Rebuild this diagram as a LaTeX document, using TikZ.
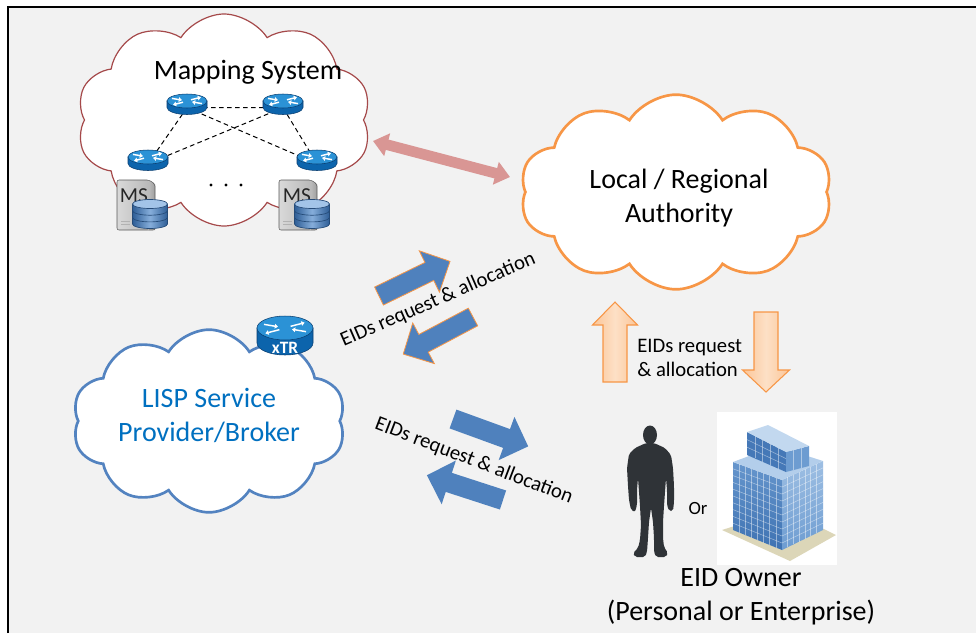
\documentclass[tikz,border=0pt]{standalone}
\usepackage{fontspec}
\setmainfont{Carlito}
\usetikzlibrary{shapes.symbols,arrows.meta,calc}

\definecolor{bg}{HTML}{F2F2F2}
\definecolor{msred}{HTML}{A5494A}
\definecolor{authorange}{HTML}{F79646}
\definecolor{lispblue}{HTML}{5383C0}
\definecolor{lisptext}{HTML}{0070C0}
\definecolor{pinkarrow}{HTML}{D99694}
\definecolor{blockblue}{HTML}{4F81BD}
\definecolor{peach}{HTML}{FBC597}
\definecolor{peachlight}{HTML}{FDE0C6}
\definecolor{rtop}{HTML}{2B92D6}
\definecolor{rside}{HTML}{0C64AC}
\definecolor{redge}{HTML}{0A3E70}
\definecolor{dbdark}{HTML}{2F5E96}
\definecolor{dblight}{HTML}{86AEDB}
\definecolor{dbtop}{HTML}{A3C4E8}
\definecolor{silhouette}{HTML}{2F3337}
\definecolor{bldgdark}{HTML}{3E72B2}
\definecolor{bldgmid}{HTML}{6D9CD1}
\definecolor{bldglight}{HTML}{B3CEEB}
\definecolor{ground}{HTML}{DCD6B8}

% block arrow: style, tail centre, angle, length, shaft half width, head half width, head length
\newcommand{\blockarrow}[7]{%
  \path[#1,shift={#2},rotate=#3]
    (0,-#5) -- ({#4-#7},-#5) -- ({#4-#7},-#6) -- (#4,0) -- ({#4-#7},#6)
    -- ({#4-#7},#5) -- (0,#5) -- cycle;}

% router body: x radius, y radius, side height, arrow scale
\newcommand{\routerbody}[4]{%
  \fill[rside, draw=redge, line width=0.4pt]
    (-#1,0) -- (-#1,#3) arc[start angle=180, end angle=0, x radius=#1, y radius=#2]
    -- (#1,0) -- cycle;
  \fill[rtop, draw=redge, line width=0.4pt] (0,0) ellipse[x radius=#1, y radius=#2];
  \begin{scope}[scale=#4, white, line width=1.1pt, -{Triangle[length=2.4pt,width=3.4pt]}]
    \draw (-15,-2.6) -- (-5,-0.9);
    \draw (15,2.6) -- (5,0.9);
    \draw (4,-1.2) -- (14,-3.8);
    \draw (-4,1.2) -- (-14,3.8);
  \end{scope}}

\tikzset{
  bigtext/.style={font=\fontsize{21}{25.5}\selectfont, align=center, inner sep=0pt},
  midtext/.style={font=\fontsize{15.5}{18}\selectfont, inner sep=0pt},
  mslabel/.style={font=\fontsize{16}{16}\selectfont, text=black!85, inner sep=0pt},
  bluearrowO/.style={fill=blockblue, draw=authorange, line width=0.6pt, line join=miter},
  bluearrow/.style={fill=blockblue},
  peacharrow/.style={left color=peach, right color=peach, middle color=peachlight,
                     draw=authorange, line width=0.8pt},
  meshlink/.style={dash pattern=on 3.5pt off 2.5pt, line width=0.75pt, black},
  router/.pic={\routerbody{20}{7}{6.5}{1}},
  xtrrouter/.pic={\routerbody{28}{12}{15}{1.4}},
  tower/.pic={
    \shade[left color=gray!30, right color=gray!55, rounded corners=1.5pt]
      (-19,-25) rectangle (13,25);
    \shade[left color=gray!55, right color=gray!75] (13,-25) -- (19,-21) -- (19,25) -- (13,25) -- cycle;
    \draw[gray!70!black, line width=0.4pt, rounded corners=1.5pt]
      (-19,-25) -- (13,-25) -- (19,-21) -- (19,25) -- (-19,25) -- cycle;
    \draw[gray!60, line width=0.6pt] (-15,16) -- (-6,16) (-15,19) -- (-6,19);
  },
  database/.pic={
    \shade[left color=dbdark, right color=dbdark, middle color=dblight]
      (-17.5,-10) -- (-17.5,10) arc[start angle=180, end angle=0, x radius=17.5, y radius=4.5]
      -- (17.5,-10) -- cycle;
    \draw[dbdark!80!black, line width=0.5pt]
      (-17.5,-3.3) arc[start angle=180, end angle=0, x radius=17.5, y radius=4.5]
      (-17.5,3.4) arc[start angle=180, end angle=0, x radius=17.5, y radius=4.5];
    \draw[dbdark!80!black, line width=0.5pt]
      (-17.5,-10) -- (-17.5,10) arc[start angle=180, end angle=0, x radius=17.5, y radius=4.5]
      -- (17.5,-10);
    \fill[dbtop, draw=dbdark!80!black, line width=0.5pt] (0,-10) ellipse[x radius=17.5, y radius=4.5];
  }
}

\begin{document}
\begin{tikzpicture}[x=0.75pt,y=-0.75pt]
\useasboundingbox (0,0) rectangle (976,633);

% page and frame
\fill[white] (0,0) rectangle (976,633);
\fill[bg] (8,7) rectangle (976,633);
\draw[line width=1.5pt] (8,633) -- (8,7) -- (976,7);

% clouds
\node[cloud, cloud puffs=10, cloud puff arc=115, cloud ignores aspect,
      minimum width=221pt, minimum height=159pt, inner sep=0pt,
      draw=msred, line width=0.9pt, fill=white] (mapcloud) at (224,120) {};
\node[cloud, cloud puffs=10, cloud puff arc=115, cloud ignores aspect,
      minimum width=234pt, minimum height=146pt, inner sep=0pt,
      draw=authorange, line width=2pt, fill=white] (authcloud) at (676,192) {};
\node[cloud, cloud puffs=10, cloud puff arc=115, cloud ignores aspect,
      minimum width=205pt, minimum height=137pt, inner sep=0pt,
      draw=lispblue, line width=2pt, fill=white] (lispcloud) at (209,421) {};

% mapping system routers and their links
\coordinate (r1) at (187,101);
\coordinate (r2) at (283,101);
\coordinate (r3) at (148,157);
\coordinate (r4) at (317,157);
\draw[meshlink] ([yshift=-5pt]r1) -- ([yshift=-5pt]r2)
  ([yshift=-5pt]r1) -- ([yshift=-5pt]r3) ([yshift=-5pt]r2) -- ([yshift=-5pt]r4)
  ([yshift=-5pt]r1) -- ([yshift=-5pt]r4) ([yshift=-5pt]r2) -- ([yshift=-5pt]r3);
\foreach \r in {r1,r2,r3,r4} \pic at (\r) {router};

\node[bigtext] (maptitle) at (248,72) {Mapping System};

% map servers
\pic at (136,205) {tower};
\pic at (298,205) {tower};
\node[mslabel] (ms1) at (134,196) {MS};
\node[mslabel] (ms2) at (297,196) {MS};
\pic at (150,214) {database};
\pic at (312,214) {database};

\foreach \dx in {211,226,241} \fill (\dx,185) circle[radius=1.6];

% authority and provider labels
\node[bigtext] (authtitle) at (679,198) {Local / Regional\\Authority};
\node[bigtext, text=lisptext] (lisptitle) at (209,415) {LISP Service\\Provider/Broker};

% xTR router on the provider cloud
\pic at (285,328) {xtrrouter};
\node[font=\bfseries\fontsize{13}{13}\selectfont, text=white, inner sep=0pt] (xtr) at (285,348) {xTR};

% mapping system <-> authority
\coordinate (pa) at (373,141);
\coordinate (pb) at (510,177);
\draw[pinkarrow, line width=8pt,
      {Triangle[length=11pt,width=17pt]}-{Triangle[length=11pt,width=17pt]}] (pa) -- (pb);

% provider <-> authority
\blockarrow{bluearrowO}{(379,296)}{26}{79}{10}{23}{23}
\blockarrow{bluearrowO}{(473,317)}{208}{79}{10}{23}{23}
\node[midtext, rotate=23.5] (lblup) at (438,300) {EIDs request \& allocation};

% provider <-> owner
\blockarrow{bluearrow}{(453,419)}{-20}{80}{10}{23}{23}
\blockarrow{bluearrow}{(503,500)}{162}{80}{10}{23}{23}
\node[midtext, rotate=-21] (lbllow) at (474,461) {EIDs request \& allocation};

% authority <-> owner
\blockarrow{peacharrow}{(615,382)}{90}{80}{12}{22.5}{23}
\blockarrow{peacharrow}{(766,312)}{-90}{80}{12}{23.5}{22}
\node[midtext, align=left, anchor=west, font=\fontsize{15.5}{18.5}\selectfont] (lblright) at (637,358) {EIDs request\\\& allocation};

% person silhouette
\fill[silhouette] (650,435) ellipse[x radius=7, y radius=9.5];
\fill[silhouette, rounded corners=1.5pt]
  (646,443) -- (635,448) -- (629,454) -- (627,468) -- (628,486) -- (629,500) -- (631,510)
  -- (635,512) -- (637,505) -- (637,490) -- (638,478) -- (639,492) -- (640,506)
  -- (641,525) -- (640,540) -- (638,548) -- (633,553) -- (635,557) -- (645,557) -- (647,552)
  -- (648,538) -- (649,522) -- (651,508) -- (653,522) -- (654,538) -- (654,552)
  -- (656,557) -- (666,557) -- (668,553) -- (664,547) -- (663,538) -- (663,522)
  -- (664,506) -- (665,492) -- (666,478) -- (667,490) -- (667,505) -- (669,511)
  -- (673,511) -- (674,502) -- (674,486) -- (673,468) -- (671,455) -- (665,448) -- (654,443) -- cycle;

\node[font=\fontsize{14}{14}\selectfont, inner sep=0pt] (ortext) at (698,508) {Or};

% office building
\fill[white] (717,412) rectangle (837,565);
\fill[ground] (722,530) -- (790,561) -- (836,535) -- (785,510) -- cycle;
\coordinate (A) at (733,462);
\coordinate (B) at (782,480);
\coordinate (C) at (782,550);
\coordinate (D) at (733,530);
\coordinate (E) at (823,461);
\coordinate (F) at (823,530);
\coordinate (G) at (776,446);
\shade[top color=bldgmid!85!bldgdark, bottom color=bldgdark] (A) -- (B) -- (C) -- (D) -- cycle;
\shade[top color=bldglight!70!bldgmid, bottom color=bldgmid] (B) -- (E) -- (F) -- (C) -- cycle;
\fill[bldglight] (A) -- (G) -- (E) -- (B) -- cycle;
\foreach \t in {0.125,0.25,...,0.9}
  \draw[white, opacity=0.45, line width=0.4pt] ($(A)!\t!(B)$) -- ($(D)!\t!(C)$);
\foreach \t in {0.1,0.2,...,0.95}
  \draw[white, opacity=0.45, line width=0.4pt] ($(A)!\t!(D)$) -- ($(B)!\t!(C)$);
\foreach \t in {0.14,0.28,...,0.9}
  \draw[white, opacity=0.45, line width=0.4pt] ($(B)!\t!(E)$) -- ($(C)!\t!(F)$);
\foreach \t in {0.1,0.2,...,0.95}
  \draw[white, opacity=0.45, line width=0.4pt] ($(B)!\t!(C)$) -- ($(E)!\t!(F)$);
\coordinate (H1) at (747,432);
\coordinate (H2) at (786,452);
\coordinate (H3) at (786,472);
\coordinate (H4) at (747,455);
\coordinate (H5) at (809,446);
\coordinate (H6) at (809,466);
\coordinate (H7) at (768,425);
\fill[bldgdark!85!bldgmid] (H1) -- (H2) -- (H3) -- (H4) -- cycle;
\fill[bldgmid] (H2) -- (H5) -- (H6) -- (H3) -- cycle;
\fill[bldglight!80!white] (H1) -- (H7) -- (H5) -- (H2) -- cycle;
\foreach \t in {0.2,0.4,0.6,0.8}
  \draw[white, opacity=0.45, line width=0.4pt] ($(H1)!\t!(H2)$) -- ($(H4)!\t!(H3)$);
\foreach \t in {0.33,0.66}
  \draw[white, opacity=0.45, line width=0.4pt] ($(H1)!\t!(H4)$) -- ($(H2)!\t!(H3)$);
\foreach \t in {0.33,0.66}
  \draw[white, opacity=0.45, line width=0.4pt] ($(H2)!\t!(H5)$) -- ($(H3)!\t!(H6)$);

\node[bigtext] (owner) at (741,597) {EID Owner\\(Personal or Enterprise)};

\end{tikzpicture}
\end{document}
